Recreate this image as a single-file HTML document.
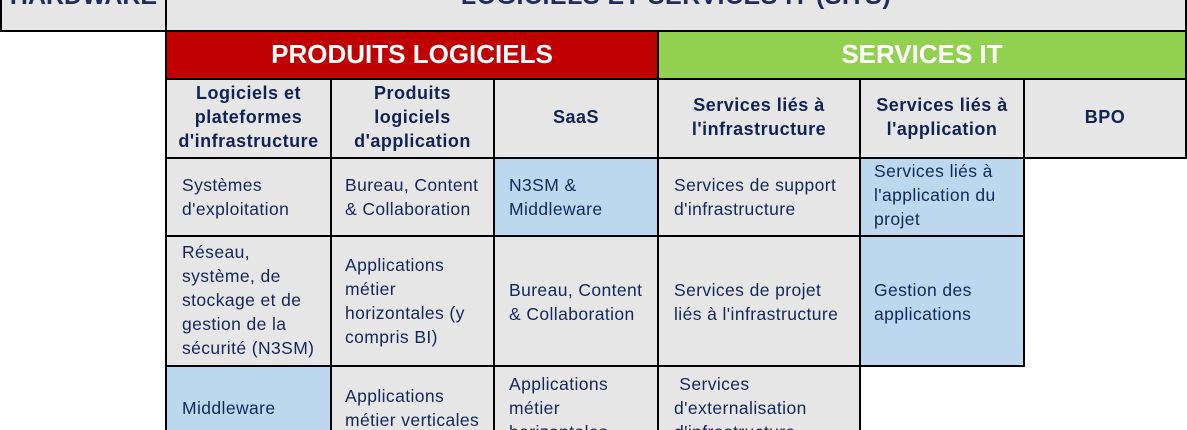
<!DOCTYPE html>
<html><head><meta charset="utf-8"><style>
html,body{margin:0;width:1187px;height:430px;overflow:hidden}
body{background:#fff;font-family:"Liberation Sans",Arial,sans-serif;position:relative}
#w{position:absolute;left:0;top:0;width:1187px;height:430px;overflow:hidden}
.b{position:absolute;box-sizing:border-box;border:2px solid #000}
.g{background:#e6e6e6}.bl{background:#bdd7ee}
.t{position:absolute;font-size:17.5px;line-height:24px;color:#14265c;letter-spacing:0.4px;white-space:nowrap}
.h{position:absolute;font-size:18px;line-height:24px;color:#0f2357;font-weight:bold;text-align:center;letter-spacing:0.5px;white-space:nowrap}
.big{position:absolute;font-weight:bold;font-size:26px;color:#fff;text-align:center;line-height:48px}
.nb{border-bottom:none}
</style></head><body><div id="w">
<div class="b g" style="left:0;top:-40px;width:167px;height:72px"></div>
<div class="b g" style="left:165px;top:-40px;width:1022px;height:72px"></div>
<div style="position:absolute;left:0;width:167px;top:-18px;text-align:center;font-weight:bold;font-size:25px;color:#1f2d5a">HARDWARE</div>
<div style="position:absolute;left:165px;width:1022px;top:-18px;text-align:center;font-weight:bold;font-size:25px;color:#1f2d5a;letter-spacing:0.5px">LOGICIELS ET SERVICES IT (SITS)</div>

<div class="b" style="left:165px;top:30px;width:494px;height:50px;background:#c00000"></div>
<div class="b" style="left:657px;top:30px;width:530px;height:50px;background:#92d050"></div>
<div class="big" style="left:165px;top:30px;width:494px">PRODUITS LOGICIELS</div>
<div class="big" style="left:657px;top:30px;width:530px">SERVICES IT</div>

<div class="b g" style="left:165px;top:78px;width:167px;height:81px"></div>
<div class="b g" style="left:330px;top:78px;width:165px;height:81px"></div>
<div class="b g" style="left:493px;top:78px;width:166px;height:81px"></div>
<div class="b g" style="left:657px;top:78px;width:204px;height:81px"></div>
<div class="b g" style="left:859px;top:78px;width:166px;height:81px"></div>
<div class="b g" style="left:1023px;top:78px;width:164px;height:81px"></div>
<div class="h" style="left:165px;width:167px;top:81px">Logiciels et<br>plateformes<br>d'infrastructure</div>
<div class="h" style="left:330px;width:165px;top:81px">Produits<br>logiciels<br>d'application</div>
<div class="h" style="left:493px;width:166px;top:105px">SaaS</div>
<div class="h" style="left:657px;width:204px;top:93px">Services liés à<br>l'infrastructure</div>
<div class="h" style="left:859px;width:166px;top:93px">Services liés à<br>l'application</div>
<div class="h" style="left:1023px;width:164px;top:105px">BPO</div>

<div class="b g" style="left:165px;top:157px;width:167px;height:80px"></div>
<div class="b g" style="left:330px;top:157px;width:165px;height:80px"></div>
<div class="b bl" style="left:493px;top:157px;width:166px;height:80px"></div>
<div class="b g" style="left:657px;top:157px;width:204px;height:80px"></div>
<div class="b bl" style="left:859px;top:157px;width:166px;height:80px"></div>
<div class="t" style="left:182px;top:173px">Systèmes<br>d'exploitation</div>
<div class="t" style="left:345px;top:173px">Bureau, Content<br>&amp; Collaboration</div>
<div class="t" style="left:509px;top:173px">N3SM &amp;<br>Middleware</div>
<div class="t" style="left:674px;top:173px">Services de support<br>d'infrastructure</div>
<div class="t" style="left:874px;top:159px">Services liés à<br>l'application du<br>projet</div>

<div class="b g" style="left:165px;top:235px;width:167px;height:132px"></div>
<div class="b g" style="left:330px;top:235px;width:165px;height:132px"></div>
<div class="b g" style="left:493px;top:235px;width:166px;height:132px"></div>
<div class="b g" style="left:657px;top:235px;width:204px;height:132px"></div>
<div class="b bl" style="left:859px;top:235px;width:166px;height:132px"></div>
<div class="t" style="left:182px;top:240px">Réseau,<br>système, de<br>stockage et de<br>gestion de la<br>sécurité (N3SM)</div>
<div class="t" style="left:345px;top:253px">Applications<br>métier<br>horizontales (y<br>compris BI)</div>
<div class="t" style="left:509px;top:278px">Bureau, Content<br>&amp; Collaboration</div>
<div class="t" style="left:674px;top:278px">Services de projet<br>liés à l'infrastructure</div>
<div class="t" style="left:874px;top:278px">Gestion des<br>applications</div>

<div class="b bl nb" style="left:165px;top:365px;width:167px;height:65px"></div>
<div class="b g nb" style="left:330px;top:365px;width:165px;height:65px"></div>
<div class="b g nb" style="left:493px;top:365px;width:166px;height:65px"></div>
<div class="b g nb" style="left:657px;top:365px;width:204px;height:65px"></div>
<div class="t" style="left:182px;top:396px">Middleware</div>
<div class="t" style="left:345px;top:384px">Applications<br>métier verticales</div>
<div class="t" style="left:509px;top:372px;height:58px;overflow:hidden">Applications<br>métier<br>horizontales</div>
<div class="t" style="left:674px;top:372px;height:58px;overflow:hidden">&nbsp;Services<br>d'externalisation<br>d'infrastructure</div>
</div></body></html>
